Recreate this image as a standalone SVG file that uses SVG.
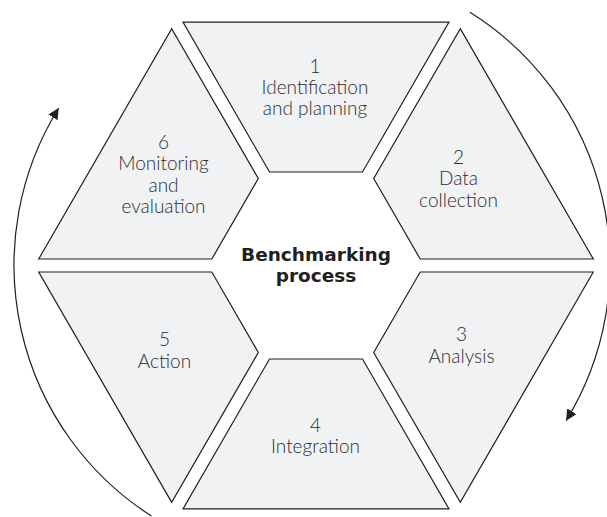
<svg xmlns="http://www.w3.org/2000/svg" width="607" height="517" viewBox="0 0 607 517">
<style>
.seg{fill:#f1f2f4;stroke:#231f20;stroke-width:1.2;stroke-linejoin:miter}
.lbl{font-family:Lato,"Open Sans","Liberation Sans",sans-serif;font-weight:300;font-size:19px;fill:#2e2e2e;text-anchor:middle}
.title{font-family:"DejaVu Sans","Liberation Sans",sans-serif;font-weight:bold;font-size:18.5px;fill:#231f20;text-anchor:middle}
.arc{fill:none;stroke:#231f20;stroke-width:1.2}
</style>
<defs>
<marker id="ah" markerUnits="userSpaceOnUse" markerWidth="12" markerHeight="11" refX="11" refY="5.5" orient="auto" viewBox="0 0 12 11">
<path d="M0,0 L11,5.5 L0,11 z" fill="#231f20"/>
</marker>
</defs>
<rect width="607" height="517" fill="#ffffff"/>
<g id="connectors">
<path class="arc" d="M469.9,12.3 A298,298 0 0 1 566.1,420.7" marker-end="url(#ah)"/>
<path class="arc" d="M151.4,516 A298,298 0 0 1 58.7,108" marker-end="url(#ah)"/>
</g>
<g id="node1">
<polygon class="seg" points="183,22.1 449,22.1 362.5,172 269.5,172"/>
<text class="lbl" x="315" y="72.5">1</text>
<text class="lbl" x="315" y="94">Identification</text>
<text class="lbl" x="315" y="115">and planning</text>
</g>
<g id="node2">
<polygon class="seg" points="460.3,28.6 593.3,259 420.2,259 373.7,178.5"/>
<text class="lbl" x="458.5" y="163.5">2</text>
<text class="lbl" x="458.5" y="185">Data</text>
<text class="lbl" x="458.5" y="206.5">collection</text>
</g>
<g id="node3">
<polygon class="seg" points="593.3,272 460.3,502.4 373.7,352.5 420.2,272"/>
<text class="lbl" x="461.5" y="341">3</text>
<text class="lbl" x="461.5" y="362.5">Analysis</text>
</g>
<g id="node4">
<polygon class="seg" points="449,508.9 183,508.9 269.5,359 362.5,359"/>
<text class="lbl" x="315.5" y="431.5">4</text>
<text class="lbl" x="315.5" y="453">Integration</text>
</g>
<g id="node5">
<polygon class="seg" points="171.7,502.4 38.7,272 211.8,272 258.3,352.5"/>
<text class="lbl" x="164.5" y="346">5</text>
<text class="lbl" x="164.5" y="367.5">Action</text>
</g>
<g id="node6">
<polygon class="seg" points="38.7,259 171.7,28.6 258.3,178.5 211.8,259"/>
<text class="lbl" x="163.5" y="148.5">6</text>
<text class="lbl" x="163.5" y="170">Monitoring</text>
<text class="lbl" x="163.5" y="191.5">and</text>
<text class="lbl" x="163.5" y="213">evaluation</text>
</g>
<g id="center">
<text class="title" x="316" y="260.5">Benchmarking</text>
<text class="title" x="316" y="282">process</text>
</g>
</svg>
